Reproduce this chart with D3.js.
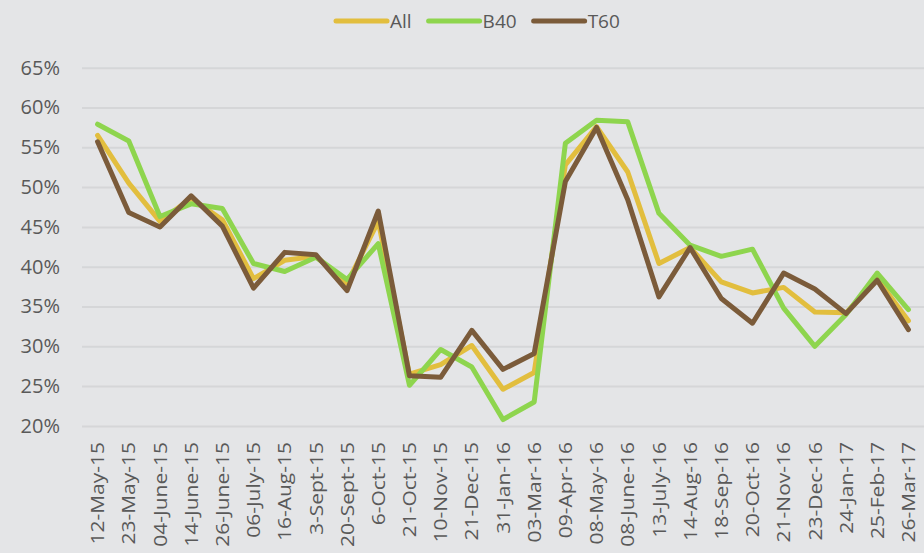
<!DOCTYPE html>
<html lang="en">
<head>
  <meta charset="UTF-8">
  <title>All / B40 / T60</title>
  <style>
    body { margin: 0; background-color: #e4e5e7; }
    svg { background-color: #e4e5e7; display: block; }
    text { font-family: "Open Sans", sans-serif; fill: #595959; }
  </style>
  <script type="text/javascript" src="https://d3js.org/d3.v7.min.js"></script>
</head>
<body>
</body>
<script type="text/javascript">

  var dates = ["12-May-15", "23-May-15", "04-June-15", "14-June-15", "26-June-15",
    "06-July-15", "16-Aug-15", "3-Sept-15", "20-Sept-15", "6-Oct-15", "21-Oct-15",
    "10-Nov-15", "21-Dec-15", "31-Jan-16", "03-Mar-16", "09-Apr-16", "08-May-16",
    "08-June-16", "13-July-16", "14-Aug-16", "18-Sep-16", "20-Oct-16", "21-Nov-16",
    "23-Dec-16", "24-Jan-17", "25-Feb-17", "26-Mar-17"];

  var all = [56.5, 50.5, 45.7, 48.6, 45.9, 38.5, 40.8, 41.3, 37.9, 45.7, 26.5,
    27.7, 30.1, 24.6, 26.7, 52.8, 57.6, 51.9, 40.4, 42.4, 38.1, 36.7, 37.4,
    34.3, 34.2, 38.5, 33.2];
  var b40 = [57.9, 55.8, 46.3, 47.9, 47.3, 40.4, 39.4, 41.2, 38.4, 42.9, 25.1,
    29.6, 27.4, 20.8, 23.0, 55.5, 58.4, 58.2, 46.7, 42.7, 41.3, 42.2, 34.8,
    30.0, 34.0, 39.2, 34.6];
  var t60 = [55.7, 46.8, 45.0, 48.9, 45.1, 37.3, 41.8, 41.5, 37.0, 47.0, 26.3,
    26.1, 32.0, 27.1, 29.1, 50.7, 57.5, 48.4, 36.2, 42.4, 36.0, 32.9, 39.2,
    37.2, 34.1, 38.3, 32.1];

  var yTicks = [20, 25, 30, 35, 40, 45, 50, 55, 60, 65];

  var series = [
    {name: "All", values: all, color: "#e2be3e"},
    {name: "B40", values: b40, color: "#8ed54e"},
    {name: "T60", values: t60, color: "#7b5b3a"}
  ];

  var width = 924, height = 553;

  var svg = d3.select("body")
    .append("svg")
    .attr("width", width)
    .attr("height", height);

  var x = d3.scaleBand()
    .domain(dates)
    .range([82, 924]);

  var y = d3.scaleLinear()
    .domain([20, 65])
    .range([425.9, 67.7]);

  // gridlines + y labels
  var yAxis = d3.axisLeft(y)
    .tickValues(yTicks)
    .tickSize(-(924 - 82))
    .tickPadding(22)
    .tickFormat(function(d) { return d + "%"; });

  var gy = svg.append("g")
    .attr("transform", "translate(82, 0)")
    .call(yAxis);
  gy.select(".domain").remove();
  gy.selectAll(".tick line")
    .attr("stroke", "#d5d6d8")
    .attr("stroke-width", 2);
  gy.selectAll(".tick text")
    .attr("font-size", 20)
    .attr("fill", "#595959")
    .attr("font-family", "'Open Sans', sans-serif");

  // x labels, rotated
  var xAxis = d3.axisBottom(x).tickSize(0).tickPadding(0);
  var gx = svg.append("g")
    .attr("transform", "translate(0, 442)")
    .call(xAxis);
  gx.select(".domain").remove();
  gx.selectAll(".tick text")
    .attr("font-size", 21)
    .attr("fill", "#595959")
    .attr("font-family", "'Open Sans', sans-serif")
    .attr("text-anchor", "end")
    .attr("x", 0)
    .attr("y", 0)
    .attr("dy", "0.36em")
    .attr("transform", "rotate(-90) scale(1, 0.88)");

  var line = d3.line()
    .x(function(d, i) { return x(dates[i]) + x.bandwidth() / 2; })
    .y(function(d) { return y(d); });

  svg.append("g").selectAll("path")
    .data(series)
    .enter()
    .append("path")
    .attr("d", function(d) { return line(d.values); })
    .attr("fill", "none")
    .attr("stroke", function(d) { return d.color; })
    .attr("stroke-width", 5)
    .attr("stroke-linejoin", "round")
    .attr("stroke-linecap", "round");

  // legend
  var legend = svg.append("g").attr("transform", "translate(336, 21)");
  var lx = 0;
  series.forEach(function(s) {
    legend.append("line")
      .attr("x1", lx).attr("x2", lx + 51)
      .attr("y1", 0).attr("y2", 0)
      .attr("stroke", s.color)
      .attr("stroke-width", 5)
      .attr("stroke-linecap", "round");
    var t = legend.append("text")
      .attr("x", lx + 54)
      .attr("y", 0)
      .attr("dy", "0.36em")
      .attr("font-size", 19)
      .text(s.name);
    lx += 54 + t.node().getComputedTextLength() + 17;
  });

</script>
</html>
